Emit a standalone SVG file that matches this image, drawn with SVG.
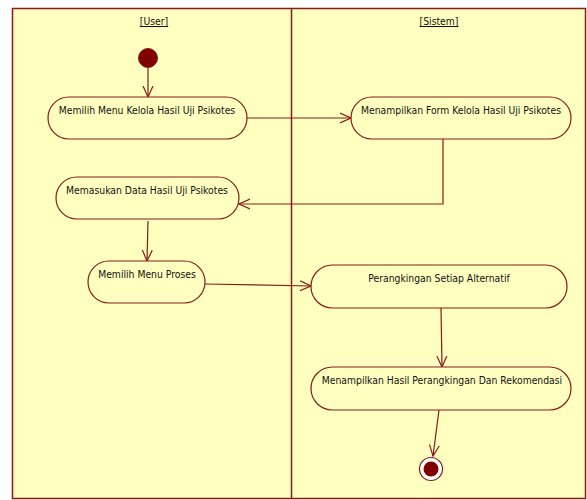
<svg xmlns="http://www.w3.org/2000/svg" width="587" height="500" viewBox="0 0 587 500">
<defs>
<style>
.lane{fill:#FFFFC0;stroke:#8B1A1A;stroke-width:1.5}
.act{fill:#FFFFC0;stroke:#8B1A1A;stroke-width:1.2}
.t{font-family:"DejaVu Sans Condensed","Liberation Sans",sans-serif;font-size:10.3px;fill:#111;text-anchor:middle}
.h{font-family:"DejaVu Sans Condensed","Liberation Sans",sans-serif;font-size:10.3px;fill:#111;text-anchor:middle;text-decoration:underline}
.c{fill:none;stroke:#8B1A1A;stroke-width:1.2}
</style>
<marker id="arr" viewBox="0 0 12 12" refX="11" refY="6" markerWidth="12" markerHeight="12" markerUnits="userSpaceOnUse" orient="auto">
<path d="M0,1 L11,6 L0,11" fill="none" stroke="#8B1A1A" stroke-width="1.2"/>
</marker>
</defs>
<rect width="587" height="500" fill="#ffffff"/>
<g id="lanes">
<rect class="lane" x="12.5" y="8.5" width="573" height="490"/>
<line x1="291.5" y1="8.5" x2="291.5" y2="498.5" stroke="#8B1A1A" stroke-width="1.5"/>
<text class="h" x="154" y="25">[User]</text>
<text class="h" x="439" y="25">[Sistem]</text>
</g>
<g id="connectors">
<line class="c" x1="148" y1="68" x2="148" y2="97" marker-end="url(#arr)"/>
<line class="c" x1="247" y1="118" x2="351" y2="118" marker-end="url(#arr)"/>
<polyline class="c" points="443,139 443,204 239,204" marker-end="url(#arr)"/>
<line class="c" x1="148" y1="221" x2="147" y2="261" marker-end="url(#arr)"/>
<line class="c" x1="205" y1="284" x2="311" y2="286" marker-end="url(#arr)"/>
<line class="c" x1="441" y1="308" x2="442" y2="367" marker-end="url(#arr)"/>
<line class="c" x1="439" y1="410" x2="433" y2="456" marker-end="url(#arr)"/>
</g>
<g id="start">
<circle cx="148" cy="58" r="9.5" fill="#800000" stroke="#8B1A1A" stroke-width="1"/>
</g>
<g id="n1">
<rect class="act" x="48" y="97" width="199" height="42" rx="21" ry="21"/>
<text class="t" x="147" y="114">Memilih Menu Kelola Hasil Uji Psikotes</text>
</g>
<g id="n2">
<rect class="act" x="351" y="97" width="220" height="42" rx="21" ry="21"/>
<text class="t" x="461" y="114">Menampilkan Form Kelola Hasil Uji Psikotes</text>
</g>
<g id="n3">
<rect class="act" x="56" y="177" width="183" height="42" rx="21" ry="21"/>
<text class="t" x="147" y="194">Memasukan Data Hasil Uji Psikotes</text>
</g>
<g id="n4">
<rect class="act" x="88" y="261" width="117" height="42" rx="21" ry="21"/>
<text class="t" x="147" y="278">Memilih Menu Proses</text>
</g>
<g id="n5">
<rect class="act" x="311" y="265" width="256" height="43" rx="21.5" ry="21.5"/>
<text class="t" x="439" y="282">Perangkingan Setiap Alternatif</text>
</g>
<g id="n6">
<rect class="act" x="311" y="367" width="260" height="43" rx="21.5" ry="21.5"/>
<text class="t" x="442" y="384">Menampilkan Hasil Perangkingan Dan Rekomendasi</text>
</g>
<g id="end">
<circle cx="431" cy="469" r="11.5" fill="#ffffff" stroke="#8B1A1A" stroke-width="1.2"/>
<circle cx="431" cy="469" r="7.5" fill="#800000"/>
</g>
</svg>
